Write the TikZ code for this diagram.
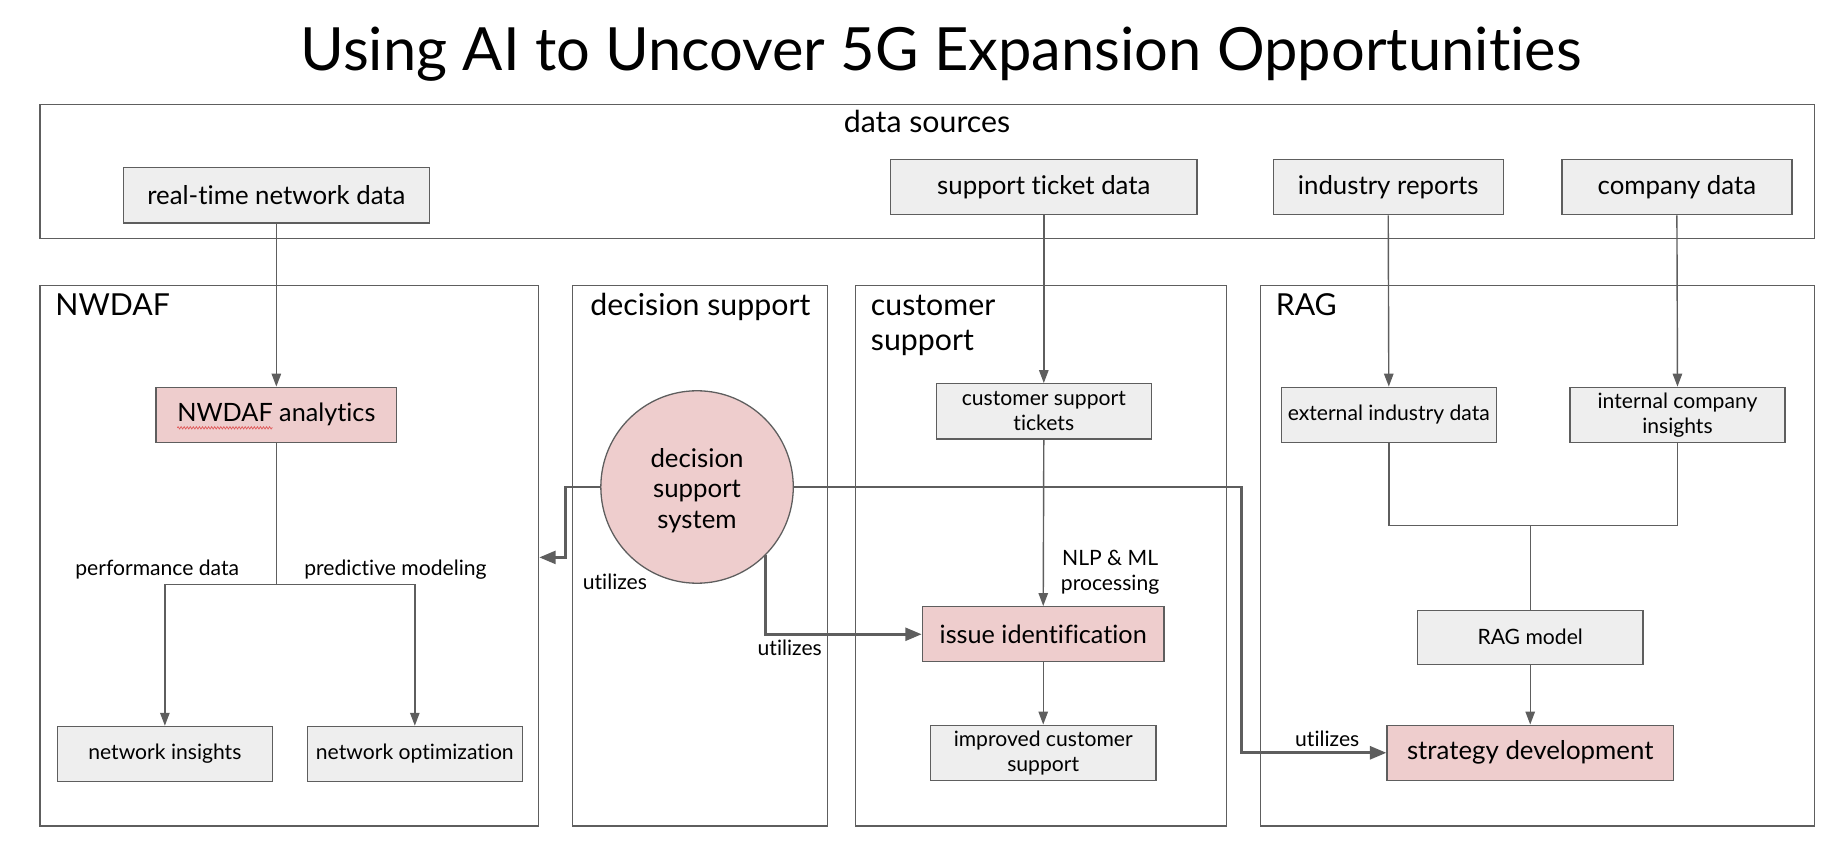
\documentclass[tikz,border=0pt]{standalone}
\usepackage{fontspec}
\setmainfont{Lato}[Ligatures=NoCommon]
\usetikzlibrary{arrows.meta,decorations.pathmorphing}

\definecolor{linegray}{HTML}{5E5E5E}
\definecolor{boxgray}{HTML}{EEEEEE}
\definecolor{pinkfill}{HTML}{EECDCD}
\definecolor{wavered}{HTML}{E05A5A}

\newcommand\fsTitle{\fontsize{50.8}{60}\selectfont}
\newcommand\fsLane{\fontsize{25.8}{30}\selectfont}
\newcommand\fsBig{\fontsize{21.5}{26}\selectfont}
\newcommand\fsSrc{\fontsize{22}{26}\selectfont}
\newcommand\fsSmall{\fontsize{18}{21}\selectfont}

\newsavebox\fullword
\newsavebox\firstword

\begin{document}
\sbox\fullword{\fsBig NWDAF analytics}
\sbox\firstword{\fsBig NWDAF}
\begin{tikzpicture}[x=1pt,y=-1pt,
  lane/.style={draw=linegray, line width=1.1pt, inner sep=0pt},
  box/.style={draw=linegray, fill=boxgray, line width=1.1pt, inner sep=0pt,
    minimum height=47pt, align=center},
  srcbox/.style={box, font=\fsSrc},
  smallbox/.style={box, font=\fsSmall},
  keybox/.style={box, fill=pinkfill, font=\fsBig},
  lanetitle/.style={anchor=base west, inner sep=0pt, font=\fsLane, align=left},
  lbl/.style={anchor=base, inner sep=0pt, font=\fsSmall, align=center},
  flow/.style={draw=linegray, line width=1.2pt, -{Triangle[length=11pt,width=8pt]}},
  plain/.style={draw=linegray, line width=1.2pt},
  uses/.style={draw=linegray, line width=2.4pt, -{Triangle[length=14pt,width=11pt]}},
  spellmark/.style={draw=wavered, line width=0.6pt, decorate,
    decoration={zigzag, amplitude=1pt, segment length=2.6pt}},
]
\useasboundingbox (0,0) rectangle (1568,731);

% title
\node[anchor=base, inner sep=0pt, font=\fsTitle] (title) at (802,60)
  {Using AI to Uncover 5G Expansion Opportunities};

% containers
\node[lane, minimum width=1512, minimum height=114] (lsrc) at (790,146) {};
\node[anchor=base, inner sep=0pt, font=\fsLane] (tsrc) at (790,113) {data sources};

\node[lane, minimum width=425, minimum height=461] (lnwdaf) at (246.5,473.5) {};
\node[lane, minimum width=217, minimum height=461] (ldec) at (596.5,473.5) {};
\node[lane, minimum width=316, minimum height=461] (lcust) at (887,473.5) {};
\node[lane, minimum width=472, minimum height=461] (lrag) at (1310,473.5) {};

% lane titles (a multi-line node sits on the baseline of its last line)
\node[lanetitle] (tnwdaf) at (47,269) {NWDAF};
\node[lanetitle] (tdec) at (503,269) {decision support};
\node[lanetitle] (tcust) at (742,299) {customer\\support};
\node[lanetitle] (trag) at (1087,269) {RAG};

% data sources
\node[srcbox, minimum width=261] (rt) at (235.5,166.5) {real-time network data};
\node[srcbox, minimum width=261] (std) at (889.5,159.5) {support ticket data};
\node[srcbox, minimum width=196] (ir) at (1183,159.5) {industry reports};
\node[srcbox, minimum width=196] (cd) at (1429,159.5) {company data};

% NWDAF
\node[keybox, minimum width=205] (nwa) at (235.5,353.5) {NWDAF analytics};
\node[smallbox, minimum width=183] (ni) at (140.5,642.5) {network insights};
\node[smallbox, minimum width=183] (no) at (353.5,642.5) {network optimization};
\coordinate (nsplit) at (235.5,498);

% spell-check mark under the first word of the analytics box
\pgfmathsetlengthmacro\wavestart{-0.5*\wd\fullword}
\pgfmathsetlengthmacro\waveend{-0.5*\wd\fullword+\wd\firstword}
\draw[spellmark] ([xshift=\wavestart, yshift=-5pt]nwa.base) -- ([xshift=\waveend, yshift=-5pt]nwa.base);

% decision support (text lowered a little, extents kept)
\node[circle, draw=linegray, fill=pinkfill, line width=1.1pt, minimum size=164pt,
  inner sep=0pt, font=\fontsize{22}{26}\selectfont] (dss) at (594,415)
  {\raisebox{-4pt}[\height][\depth]{\begin{tabular}{@{}c@{}}decision\\support\\system\end{tabular}}};

% customer support
\node[smallbox, minimum width=183] (cst) at (889.5,350.5) {customer support\\tickets};
\node[keybox, minimum width=206] (issue) at (889,540.5) {issue identification};
\node[smallbox, minimum width=192] (ics) at (889,641.5) {improved customer\\support};

% RAG
\node[smallbox, minimum width=183] (eid) at (1183.5,353.5) {external industry data};
\node[smallbox, minimum width=183] (ici) at (1429.5,353.5) {internal company\\insights};
\node[smallbox, minimum width=192, minimum height=46pt] (rag) at (1304,543) {RAG model};
\node[keybox, minimum width=244, font=\fontsize{22}{26}\selectfont] (strat) at (1304,641.5) {strategy development};
\coordinate (rjoin) at (1304,448);

% connectors: data flow
\draw[flow] (rt.south) -- (nwa.north);
\draw[plain] (nwa.south) -- (nsplit);
\draw[flow] (nsplit) -| (ni.north);
\draw[flow] (nsplit) -| (no.north);
\draw[flow] (std.south) -- (cst.north);
\draw[flow] (cst.south) -- (issue.north);
\draw[flow] (issue.south) -- (ics.north);
\draw[flow] (ir.south) -- (eid.north);
\draw[flow] (cd.south) -- (ici.north);
\draw[plain] (eid.south) |- (rjoin) -| (ici.south);
\draw[plain] (rjoin) -- (rag.north);
\draw[flow] (rag.south) -- (strat.north);

% connectors: decision support system usage
\coordinate (uL) at (482,475);
\coordinate (uR) at (1058,415);
\draw[uses] (dss.west) -| (uL) -- (lnwdaf.east |- uL);
\draw[uses] (dss.-45) |- (issue.west);
\draw[uses] (dss.east) -- (uR) |- (strat.west);

% labels
\node[lbl] (lperf) at (134,490) {performance data};
\node[lbl] (lpred) at (337,490) {predictive modeling};
\node[lbl] (lu1) at (524,502) {utilizes};
\node[lbl] (lu2) at (673,559) {utilizes};
\node[lbl] (lu3) at (1131,636) {utilizes};
\node[lbl] (lnlp) at (946,503) {NLP \& ML\\processing};
\end{tikzpicture}
\end{document}
